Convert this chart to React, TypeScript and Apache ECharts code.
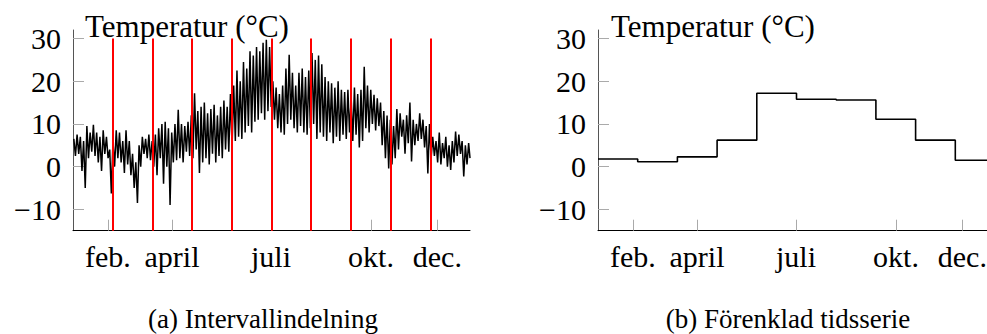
import React, { useEffect, useRef } from "react";
import * as echarts from "echarts";

// ---- data ----
// Left panel: temperature envelope read per 3-day bin (day = 3*i)
const binDays = 3;
const hiTemps = [
  6.5, 7.5, 7, 6, 9.5, 8, 9.8, 8, 7, 8.5, 7, 4, 6, 8.5, 8, 6, 8.5, 6, 3, 1,
  5, 7, 6.5, 7.5, 6, 7.5, 9, 10, 10.5, 9, 8, 10,
  13.3, 10, 9.5, 10.5, 12, 17.2, 13, 14, 15, 12.5, 13.5, 14.5, 12, 14, 15.5, 14, 17, 19, 22.5, 20,
  24.5, 23, 27, 26, 28, 27, 29, 29.7, 28,
  20, 18.5, 17, 19, 23, 26.2, 22, 19, 22, 23, 21, 22.5, 26.6, 25, 26, 24, 21, 20, 19.5, 18.5,
  20, 18, 17.5, 18, 16, 18.5, 17, 18, 23.4, 19, 18, 16.8, 16, 15, 13, 12, 11, 9.5, 13.5, 12.5,
  11, 12, 15, 11, 10, 12.5, 11, 9.5, 10, 7, 6, 8, 5.5, 7, 5, 6, 8.2, 7.5, 6, 5, 5.5,
];
const loTemps = [
  2.5, 3, -1, -5, 2, 3.5, 2.5, 1, -1, 3, 2, -6.3, 0, 2, 1, -1.5, 0.5, -2, -5, -8.5,
  0, 3, 2, 1.5, 0, -2, 2, -4, 0, -9, 1, 1.5,
  2, 1, 3.5, 2.5, 2, 4, -1.5, 1, 2, 0.5, 3, 1, 2.5, 2, 4, 3.5, 4.5, 6, 7, 6.5,
  8, 9.5, 8, 10.5, 11, 12.5, 11, 13, 14,
  11, 9, 8, 7.5, 10, 11, 9, 8, 9.5, 8, 7.5, 9, 10, 6.5, 8, 7, 6, 8, 5.5, 7,
  6, 7.5, 6.5, 8, 6, 7.5, 4.5, 6, 9, 8, 10, 8.5, 9.5, 5, 2, -0.4, 0.5, 2, 4, 7,
  3, 5.5, 1.2, 5, 6, 6.5, 4.5, -1.6, 2, 2.5, 1, 0.5, 2, 0, -0.8, 1, 2.5, 3, -2.3, 0.5, 2,
];

// Interval boundaries (10 equal intervals over the year)
const intervalBounds = [0, 36.5, 73, 109.5, 146, 182.5, 219, 255.5, 292, 328.5, 365];
// Right panel: interval means
const intervalMeans = [1.8, 1.15, 2.3, 6.2, 17.2, 15.8, 15.6, 11.1, 6.2, 1.5];

// Axis ticks
const monthTickDays = [32, 91, 182, 274, 335];
const monthTickLabels = ["feb.", "april", "juli", "okt.", "dec."];
const yTickValues = [-10, 0, 10, 20, 30];

const yTitle = "Temperatur (°C)";
const captionA = "(a) Intervallindelning";
const captionB = "(b) Förenklad tidsserie";

const FONT = "Liberation Serif, serif";

export default function App() {
  const ref = useRef<HTMLDivElement>(null);

  useEffect(() => {
    if (!ref.current) return;
    const chart = echarts.init(ref.current, undefined, { renderer: "svg" });

    const series1: [number, number][] = [];
    hiTemps.forEach((h, i) => {
      const start = i * binDays;
      series1.push([Math.min(start + 0.75, 365), h]);
      series1.push([Math.min(start + 2.25, 365), loTemps[i]]);
    });

    const redLines = intervalBounds.slice(1, -1).map((x) => ({
      coords: [
        [x, -15],
        [x, 30],
      ],
    }));

    const stepData: [number, number][] = intervalMeans.map((m, i) => [intervalBounds[i], m]);
    stepData.push([intervalBounds[intervalBounds.length - 1], intervalMeans[intervalMeans.length - 1]]);

    const mkX = (gi: number) => ({
      type: "value",
      gridIndex: gi,
      min: 0,
      max: 365,
      splitLine: { show: false },
      axisLine: { show: true, onZero: false, lineStyle: { color: "#000", width: 1 } },
      axisTick: {
        show: true,
        inside: true,
        length: 11,
        customValues: monthTickDays,
        lineStyle: { color: "#aaa", width: 1 },
      },
      axisLabel: {
        show: true,
        customValues: monthTickDays,
        formatter: (v: number) => {
          const idx = monthTickDays.indexOf(v);
          return idx >= 0 ? monthTickLabels[idx] : "";
        },
        fontFamily: FONT,
        fontSize: 30,
        color: "#000",
        margin: 11,
      },
    });
    const mkY = (gi: number) => ({
      type: "value",
      gridIndex: gi,
      min: -15,
      max: 32,
      splitLine: { show: false },
      axisLine: { show: true, onZero: false, lineStyle: { color: "#555", width: 1 } },
      axisTick: {
        show: true,
        inside: true,
        length: 11,
        customValues: yTickValues,
        lineStyle: { color: "#aaa", width: 1 },
      },
      axisLabel: {
        show: true,
        customValues: yTickValues,
        formatter: (v: number) => (v < 0 ? "\u2212" + Math.abs(v) : String(v)),
        fontFamily: FONT,
        fontSize: 30,
        color: "#000",
        margin: 12,
      },
    });

    const txt = (text: string, x: number, y: number, size: number, align: string) => ({
      type: "text",
      x,
      y,
      silent: true,
      z: 100,
      style: {
        text,
        fill: "#000",
        font: `${size}px ${FONT}`,
        align,
        verticalAlign: "middle",
        textAlign: align,
        textVerticalAlign: "middle",
      },
    });

    chart.setOption({
      animation: false,
      backgroundColor: "#fff",
      grid: [
        { left: 73, top: 30, width: 397, height: 200.7 },
        { left: 598, top: 30, width: 397, height: 200.7 },
      ],
      xAxis: [mkX(0), mkX(1)],
      yAxis: [mkY(0), mkY(1)],
      series: [
        {
          type: "line",
          xAxisIndex: 0,
          yAxisIndex: 0,
          data: series1,
          symbol: "none",
          lineStyle: { color: "#000", width: 1.5, join: "bevel" },
          z: 2,
        },
        {
          type: "lines",
          coordinateSystem: "cartesian2d",
          xAxisIndex: 0,
          yAxisIndex: 0,
          data: redLines,
          lineStyle: { color: "#ff0000", width: 2, opacity: 1 },
          z: 3,
        },
        {
          type: "line",
          xAxisIndex: 1,
          yAxisIndex: 1,
          data: stepData,
          step: "end",
          symbol: "none",
          lineStyle: { color: "#000", width: 1.6 },
          z: 2,
        },
      ],
      graphic: [
        txt(yTitle, 85, 26.6, 31, "left"),
        txt(yTitle, 611, 26.6, 31, "left"),
        txt(captionA, 263, 319.2, 27, "center"),
        txt(captionB, 788, 319.2, 27, "center"),
      ],
    });

    return () => chart.dispose();
  }, []);

  return (
    <div
      style={{
        position: "absolute",
        left: 0,
        top: 0,
        width: 987,
        height: 334,
        overflow: "hidden",
        background: "#fff",
      }}
    >
      <div ref={ref} style={{ width: 1010, height: 334 }} />
    </div>
  );
}
